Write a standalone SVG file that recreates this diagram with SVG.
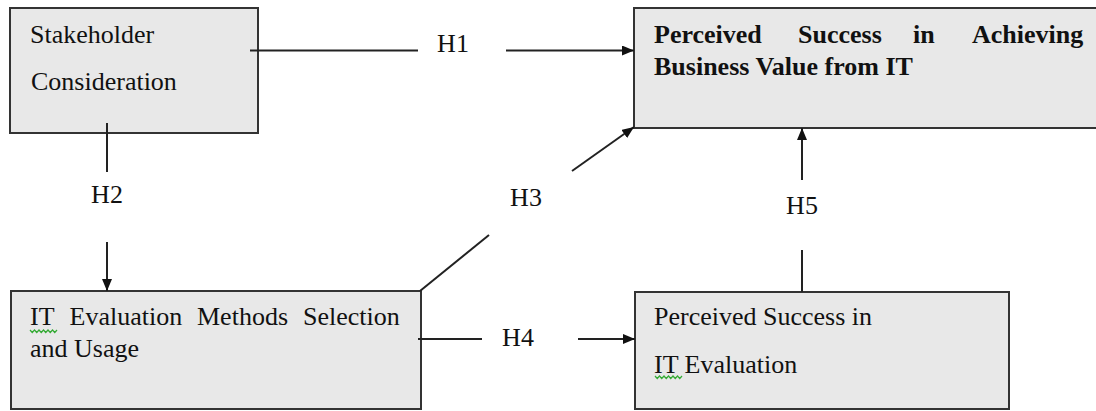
<svg xmlns="http://www.w3.org/2000/svg" width="1096" height="411" viewBox="0 0 1096 411">
  <defs>
    <style>
      .box { fill: #e8e8e8; stroke: #333; stroke-width: 2; }
      .t { font-family: 'Liberation Serif', Tinos, 'DejaVu Serif', 'Noto Serif', serif; font-size: 26px; fill: #111; }
      .b { font-weight: bold; }
      .lbl { font-family: 'Liberation Serif', Tinos, 'DejaVu Serif', 'Noto Serif', serif; font-size: 26px; fill: #111; text-anchor: middle; }
      .ln { stroke: #222; stroke-width: 2; fill: none; }
      .sq { stroke: #3a3; stroke-width: 1.2; fill: none; }
    </style>
    <marker id="arr" viewBox="0 0 12 10" refX="12" refY="5" markerWidth="12" markerHeight="10" markerUnits="userSpaceOnUse" orient="auto">
      <path d="M0,0 L12,5 L0,10 Z" fill="#111"/>
    </marker>
  </defs>
  <rect width="1096" height="411" fill="#fff"/>

  <g id="stakeholder">
    <rect class="box" x="10" y="8" width="248" height="125"/>
    <text class="t" x="30" y="43">Stakeholder</text>
    <text class="t" x="31" y="90">Consideration</text>
  </g>

  <g id="business-value">
    <rect class="box" x="634" y="8" width="500" height="120"/>
    <text class="t b" x="654" y="43">Perceived</text>
    <text class="t b" x="798" y="43">Success</text>
    <text class="t b" x="913" y="43">in</text>
    <text class="t b" x="972" y="43">Achieving</text>
    <text class="t b" x="654" y="75">Business Value from IT</text>
  </g>

  <g id="it-eval-methods">
    <rect class="box" x="11" y="291" width="410" height="118"/>
    <text class="t" x="30" y="325">IT</text>
    <text class="t" x="69.5" y="325">Evaluation</text>
    <text class="t" x="197" y="325">Methods</text>
    <text class="t" x="303" y="325">Selection</text>
    <text class="t" x="30" y="357">and Usage</text>
    <path class="sq" d="M30,330 l2.25,2.5 l2.25,-2.5 l2.25,2.5 l2.25,-2.5 l2.25,2.5 l2.25,-2.5 l2.25,2.5 l2.25,-2.5 l2.25,2.5 l2.25,-2.5 l2.25,2.5 l2.25,-2.5"/>
  </g>

  <g id="it-eval-success">
    <rect class="box" x="635" y="292" width="374" height="117"/>
    <text class="t" x="654" y="325">Perceived Success in</text>
    <text class="t" x="654" y="373">IT Evaluation</text>
    <path class="sq" d="M655,376 l2.25,2.5 l2.25,-2.5 l2.25,2.5 l2.25,-2.5 l2.25,2.5 l2.25,-2.5 l2.25,2.5 l2.25,-2.5 l2.25,2.5 l2.25,-2.5 l2.25,2.5 l2.25,-2.5"/>
  </g>

  <g id="connectors">
    <line class="ln" x1="250" y1="50.5" x2="418" y2="50.5"/>
    <line class="ln" x1="506" y1="50.5" x2="634" y2="50.5" marker-end="url(#arr)"/>
    <text class="lbl" x="453" y="52">H1</text>

    <line class="ln" x1="107" y1="123" x2="107" y2="172"/>
    <line class="ln" x1="107" y1="242" x2="107" y2="291" marker-end="url(#arr)"/>
    <text class="lbl" x="107" y="203">H2</text>

    <line class="ln" x1="420" y1="291" x2="489" y2="235"/>
    <line class="ln" x1="572" y1="171" x2="634" y2="127" marker-end="url(#arr)"/>
    <text class="lbl" x="526" y="206">H3</text>

    <line class="ln" x1="418" y1="339" x2="482" y2="339"/>
    <line class="ln" x1="578" y1="339" x2="635" y2="339" marker-end="url(#arr)"/>
    <text class="lbl" x="518" y="346">H4</text>

    <line class="ln" x1="802" y1="292" x2="802" y2="250"/>
    <line class="ln" x1="802" y1="180" x2="802" y2="128" marker-end="url(#arr)"/>
    <text class="lbl" x="802" y="214">H5</text>
  </g>
</svg>
